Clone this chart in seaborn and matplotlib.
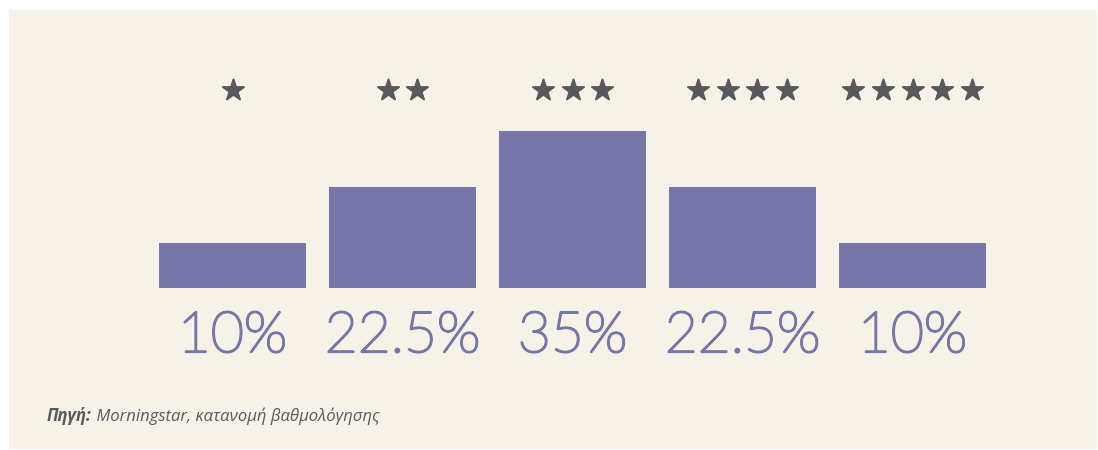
import matplotlib.pyplot as plt
import matplotlib.patheffects as pe
import seaborn as sns
import pandas as pd
from matplotlib.patches import Rectangle

# rating data
ratings = [1, 2, 3, 4, 5]
shares = [10, 22.5, 35, 22.5, 10]
share_labels = ["10%", "22.5%", "35%", "22.5%", "10%"]
source_bold = "Πηγή:"
source_text = " Morningstar, κατανομή βαθμολόγησης"

bar_color = "#7776a8"
star_color = "#58595b"
bg_color = "#f6f2e8"

df = pd.DataFrame({"rating": [str(r) for r in ratings], "share": shares})

fig = plt.figure(figsize=(10.98, 4.5), dpi=100)
fig.patch.set_facecolor("white")
# cream panel
fig.patches.append(Rectangle((9 / 1098, 1 / 450), 1088 / 1098, 439 / 450,
                             transform=fig.transFigure, facecolor=bg_color,
                             edgecolor="none", zorder=-10))

ax = fig.add_axes([147.5 / 1098, 162 / 450, 850 / 1098, 157 / 450])
ax.set_facecolor("none")
ax.set_zorder(1)
sns.barplot(data=df, x="rating", y="share", color=bar_color, saturation=1,
            width=0.865, ax=ax)
ax.set_xlim(-0.5, 4.5)
ax.set_ylim(0, 35)
ax.axis("off")

# stars above each bar and percent labels below
step = 0.175
for i, n in enumerate(ratings):
    xs = [i + (k - (n - 1) / 2) * step for k in range(n)]
    ax.scatter(xs, [44.1] * n, marker="*", s=255, color=star_color,
               edgecolor=star_color, linewidth=1.4, clip_on=False, zorder=5)
    ax.text(i, -10.7, share_labels[i], ha="center", va="center",
            fontsize=41, color=bar_color, family="Lato", fontweight="light",
            clip_on=False,
            path_effects=[pe.withStroke(linewidth=1.6, foreground=bar_color)])

t = fig.text(47 / 1098, 1 - 416 / 450, source_bold, fontsize=12,
             style="italic", fontweight="bold", color=star_color,
             family="Open Sans", va="center")
fig.canvas.draw()
bb = t.get_window_extent()
fig.text(bb.x1 / 1098, 1 - 416 / 450, source_text, fontsize=12,
         style="italic", color=star_color, family="Open Sans", va="center")

fig.savefig("out.png", dpi=100, facecolor=fig.get_facecolor())
